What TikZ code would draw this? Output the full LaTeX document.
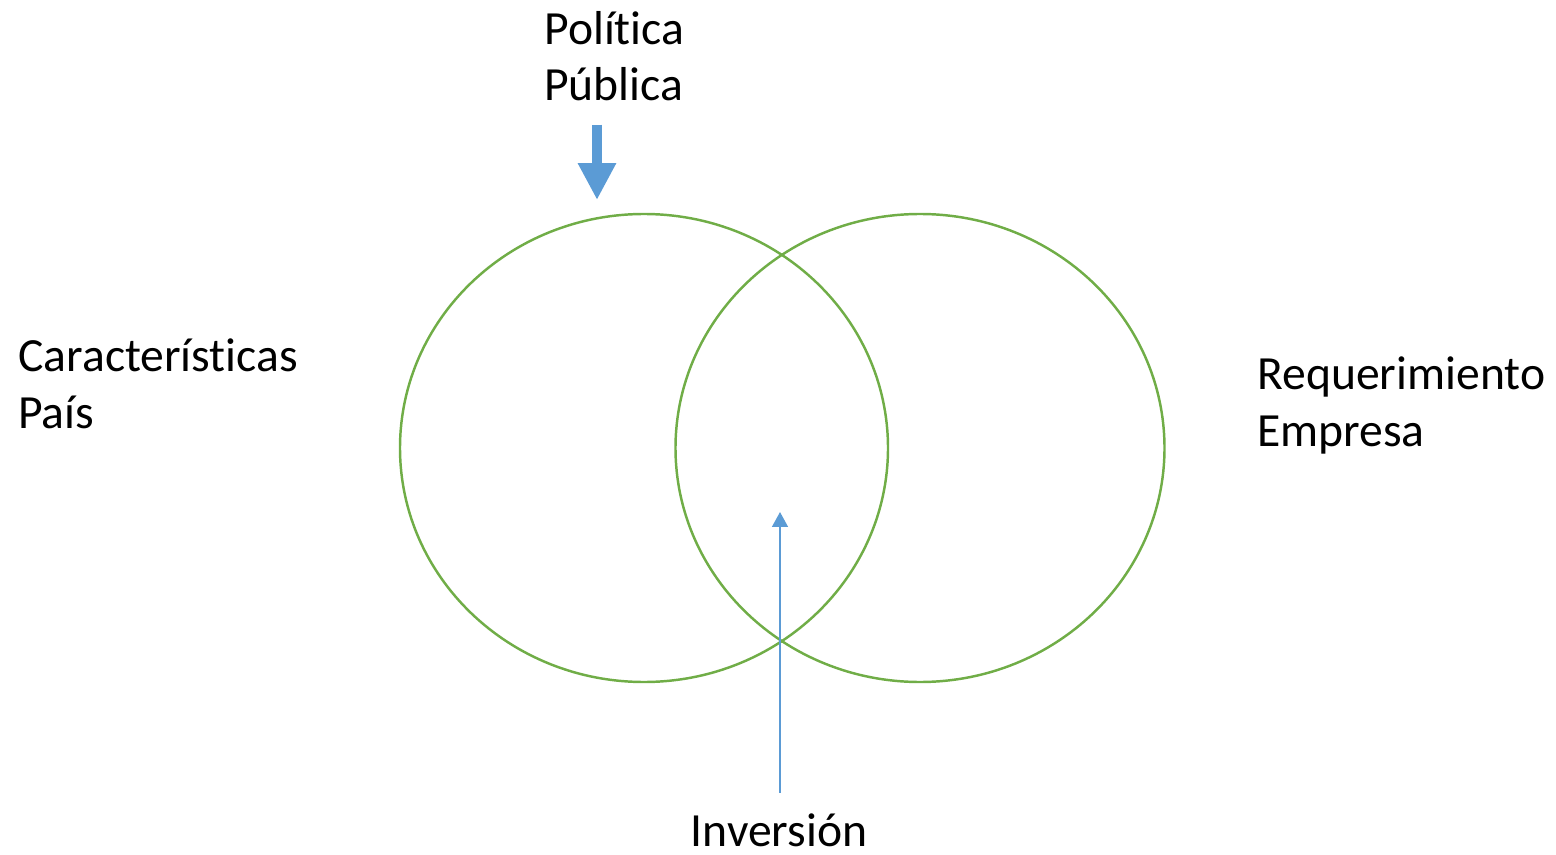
\documentclass[tikz,border=0pt]{standalone}
\usepackage{fontspec}
\setmainfont{Carlito}[Ligatures={NoCommon,NoContextual}]
\usetikzlibrary{arrows.meta}
\definecolor{ringgreen}{RGB}{112,173,71}
\definecolor{arrowblue}{RGB}{91,155,213}
\begin{document}
\begin{tikzpicture}[x=0.02cm, y=-0.02cm,
    label/.style={inner sep=0pt, align=left, font=\fontsize{27.1}{32.3}\selectfont},
    ring/.style={draw=ringgreen, line width=1.4pt},
    bigarrow/.style={draw=arrowblue, line width=6.2pt, -{Triangle[width=20.4pt,length=21pt]}},
    smallarrow/.style={draw=arrowblue, line width=1.1pt, -{Triangle[width=9pt,length=8.5pt]}}]
    \useasboundingbox (0,0) rectangle (1556,855);
    \coordinate (L) at (644,448);
    \coordinate (R) at (920,448);
    \coordinate (poltip) at (597,200);
    \coordinate (invtip) at (780,512);
    \draw [ring] (L) ellipse [x radius=244, y radius=234];
    \draw [ring] (R) ellipse [x radius=244.5, y radius=234];
    \node [label, anchor=base west] (politica) at (544,101) {Política\\Pública};
    \node [label, anchor=base west] (caract) at (18,428) {Características\\País};
    \node [label, anchor=base west] (req) at (1257,446) {Requerimiento\\Empresa};
    \node [label, anchor=base] (inversion) at (779,846) {Inversión};
    \draw [bigarrow, shorten <=0.46cm] (politica.south -| poltip) -- (poltip);
    \draw [smallarrow, shorten <=0.4cm] (inversion.north -| invtip) -- (invtip);
\end{tikzpicture}
\end{document}
